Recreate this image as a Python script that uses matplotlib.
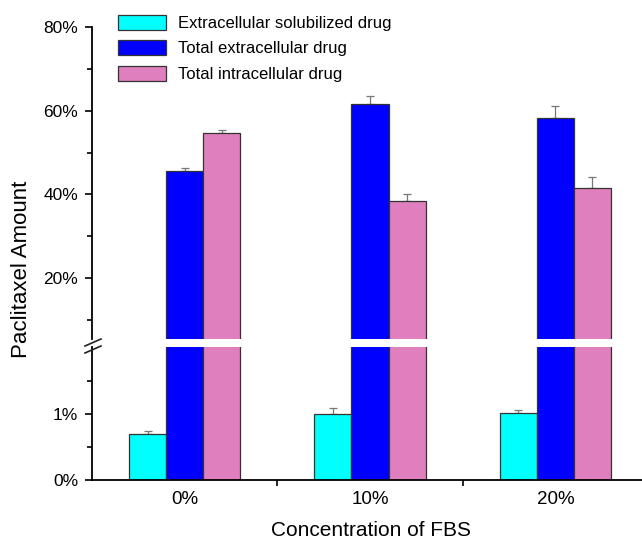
import numpy as np
import matplotlib
matplotlib.use('Agg')
import matplotlib.pyplot as plt
import matplotlib.ticker as mticker
from matplotlib.lines import Line2D

plt.rcParams['font.family'] = ['Liberation Sans', 'DejaVu Sans']

# -- data (values in %)
groups = ['0%', '10%', '20%']
series_names = ['Extracellular solubilized drug', 'Total extracellular drug', 'Total intracellular drug']
solubilized = [0.70, 1.01, 1.02]
solubilized_err = [0.05, 0.08, 0.05]
total_extra = [45.5, 61.7, 58.3]
total_extra_err = [0.9, 1.8, 2.8]
total_intra = [54.6, 38.4, 41.6]
total_intra_err = [0.8, 1.7, 2.6]

colors = ['#00ffff', '#0000ff', '#e07fbd']
W, H = 642, 543

fig = plt.figure(figsize=(W / 100, H / 100), dpi=100)
left = 92 / W
width = 556 / W
ax_low = fig.add_axes([left, (H - 480) / H, width, (480 - 347) / H])
ax_up = fig.add_axes([left, (H - 339) / H, width, (339 - 27.3) / H])

x = np.arange(len(groups))
bw = 0.2
series = [(solubilized, solubilized_err), (total_extra, total_extra_err), (total_intra, total_intra_err)]

for ax in (ax_low, ax_up):
    for i, (vals, errs) in enumerate(series):
        pos = x + (i - 1) * bw
        ax.bar(pos, vals, bw, color=colors[i], edgecolor='#333333', linewidth=0.9,
               label=series_names[i], zorder=2)
        ax.errorbar(pos, vals, yerr=[np.zeros(len(errs)), errs], fmt='none',
                    ecolor='#777777', elinewidth=0.9, capsize=3.2, capthick=0.9, zorder=1)
    ax.set_xlim(-0.5, 2.5)
    for s in ('top', 'right'):
        ax.spines[s].set_visible(False)
    ax.spines['left'].set_linewidth(1.3)
    ax.spines['bottom'].set_linewidth(1.3)
    ax.tick_params(axis='y', which='major', direction='out', length=5, width=1.2,
                   labelsize=12.5, pad=5)
    ax.tick_params(axis='y', which='minor', direction='out', length=3.5, width=1.2)
    ax.yaxis.set_major_formatter(mticker.PercentFormatter(xmax=100, decimals=0))

ax_low.set_ylim(0, 2.02)
ax_low.yaxis.set_major_locator(mticker.FixedLocator([0, 1]))
ax_low.yaxis.set_minor_locator(mticker.FixedLocator([0.5, 1.5]))
ax_low.set_xticks(x)
ax_low.set_xticklabels(groups)
ax_low.set_xticks([0.5, 1.5], minor=True)
ax_low.tick_params(axis='x', which='major', length=0, labelsize=13.5, pad=8)
ax_low.tick_params(axis='x', which='minor', direction='out', length=4, width=1.2)

ax_up.set_ylim(5.4, 80)
ax_up.yaxis.set_major_locator(mticker.FixedLocator([20, 40, 60, 80]))
ax_up.yaxis.set_minor_locator(mticker.FixedLocator([10, 30, 50, 70]))
ax_up.spines['bottom'].set_visible(False)
ax_up.set_xticks([])

# axis break marks
for dy in (0, 7):
    y0 = (H - (346 + dy)) / H
    y1 = (H - (339 + dy)) / H
    fig.add_artist(Line2D([85 / W, 101 / W], [y0, y1], color='#222222', lw=1.2))

fig.text(22 / W, (H - 269) / H, 'Paclitaxel Amount', rotation=90, ha='center', va='center', fontsize=16)
fig.text(371 / W, (H - 531) / H, 'Concentration of FBS', ha='center', va='center', fontsize=15)

handles, labels = ax_up.get_legend_handles_labels()
ax_up.legend(handles, labels, loc='upper left', bbox_to_anchor=(118 / W, (H - 15) / H),
             bbox_transform=fig.transFigure, frameon=False, fontsize=12,
             handlelength=2.9, handleheight=1.0, handletextpad=0.7,
             labelspacing=0.55, borderpad=0, borderaxespad=0)

fig.savefig('out.png', dpi=100)
